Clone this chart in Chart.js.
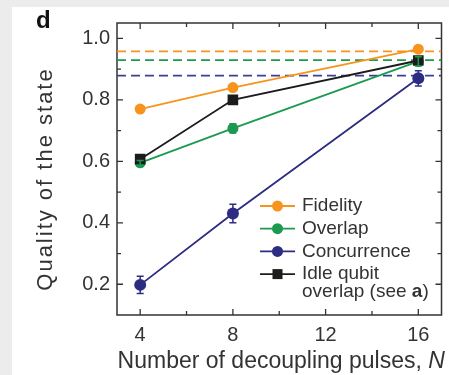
<!DOCTYPE html>
<html>
<head>
<meta charset="utf-8">
<script src="https://cdn.jsdelivr.net/npm/chart.js@4.4.1/dist/chart.umd.min.js"></script>
<style>
  html, body { margin: 0; padding: 0; background: #ffffff; overflow: hidden; }
  #wrap { position: relative; width: 449px; height: 375px; }
  canvas { display: block; }
</style>
</head>
<body>
<div id="wrap"><canvas id="qualityChart" width="449" height="375"></canvas></div>
<script>
// Data (panel d)
const pulses = [4, 8, 16];
const fidelity = [0.77, 0.84, 0.965];
const overlap = [0.595, 0.707, 0.925];
const overlapErr = [0.008, 0.015, 0.015];
const concurrence = [0.198, 0.43, 0.87];
const concurrenceErr = [0.028, 0.03, 0.025];
const idleOverlap = [0.607, 0.80, 0.928];

// dashed reference levels (fidelity, overlap, concurrence)
const refLevels = [0.958, 0.929, 0.879];

const xTicks = [4, 8, 12, 16];
const xMinorTicks = [6, 10, 14];
const yTicks = [0.2, 0.4, 0.6, 0.8, 1.0];
const yMinorTicks = [0.3, 0.5, 0.7, 0.9];

const COLORS = {
    fidelity: '#f7941d',
    overlap: '#1b9a50',
    concurrence: '#2b2c82',
    idle: '#1c1c1c',
    text: '#333333',
};
const FONT = "'Liberation Sans', Arial, sans-serif";

const toPoints = (ys) => pulses.map((x, i) => ({ x, y: ys[i] }));

const series = (label, ys, color, style, radius) => ({
    label,
    data: toPoints(ys),
    showLine: true,
    borderColor: color,
    backgroundColor: color,
    borderWidth: 1.8,
    pointStyle: style,
    pointRadius: radius,
    pointHoverRadius: radius,
    pointBorderWidth: 0,
});

const refLine = (level, color) => ({
    data: [{ x: 3, y: level }, { x: 17, y: level }],
    showLine: true,
    borderColor: color,
    borderWidth: 1.7,
    borderDash: [9, 5],
    pointRadius: 0,
});

const errorBars = [
    { datasetIndex: 2, errs: overlapErr, color: COLORS.overlap },
    { datasetIndex: 3, errs: concurrenceErr, color: COLORS.concurrence },
];

const legendItems = [
    { color: COLORS.fidelity, style: 'circle', lines: ['Fidelity'] },
    { color: COLORS.overlap, style: 'circle', lines: ['Overlap'] },
    { color: COLORS.concurrence, style: 'circle', lines: ['Concurrence'] },
    { color: COLORS.idle, style: 'rect', lines: ['Idle qubit', 'overlap (see |a|)'] },
];

const figurePlugin = {
    id: 'figureDecor',
    beforeDraw(chart) {
        const ctx = chart.ctx;
        ctx.save();
        ctx.fillStyle = '#ffffff';
        ctx.fillRect(0, 0, 449, 375);
        // grey page margin on the left and top
        ctx.fillStyle = '#ececec';
        ctx.fillRect(0, 0, 12, 375);
        ctx.fillRect(0, 0, 449, 7);
        ctx.restore();
    },
    beforeDatasetsDraw(chart) {
        const { ctx, chartArea: a, scales: { x, y } } = chart;
        ctx.save();
        // frame
        ctx.strokeStyle = COLORS.text;
        ctx.lineWidth = 1.5;
        ctx.strokeRect(a.left, a.top, a.right - a.left, a.bottom - a.top);
        // inward ticks on all sides
        ctx.lineWidth = 1.3;
        ctx.beginPath();
        const xt = (v, len) => {
            const px = x.getPixelForValue(v);
            ctx.moveTo(px, a.bottom); ctx.lineTo(px, a.bottom - len);
            ctx.moveTo(px, a.top); ctx.lineTo(px, a.top + len);
        };
        const yt = (v, len) => {
            const py = y.getPixelForValue(v);
            ctx.moveTo(a.left, py); ctx.lineTo(a.left + len, py);
            ctx.moveTo(a.right, py); ctx.lineTo(a.right - len, py);
        };
        xTicks.forEach(v => xt(v, 6));
        xMinorTicks.forEach(v => xt(v, 4));
        yTicks.forEach(v => yt(v, 6));
        yMinorTicks.forEach(v => yt(v, 4));
        ctx.stroke();
        ctx.restore();
    },
    afterDatasetsDraw(chart) {
        const { ctx, scales: { x, y } } = chart;
        ctx.save();
        ctx.lineWidth = 1.5;
        errorBars.forEach(eb => {
            const ds = chart.data.datasets[eb.datasetIndex];
            ctx.strokeStyle = eb.color;
            ctx.beginPath();
            ds.data.forEach((p, i) => {
                const px = x.getPixelForValue(p.x);
                const y1 = y.getPixelForValue(p.y - eb.errs[i]);
                const y2 = y.getPixelForValue(p.y + eb.errs[i]);
                ctx.moveTo(px, y1); ctx.lineTo(px, y2);
                ctx.moveTo(px - 3.5, y1); ctx.lineTo(px + 3.5, y1);
                ctx.moveTo(px - 3.5, y2); ctx.lineTo(px + 3.5, y2);
            });
            ctx.stroke();
        });
        ctx.restore();
    },
    afterDraw(chart) {
        const { ctx, chartArea: a } = chart;
        ctx.save();
        ctx.fillStyle = '#111';
        ctx.textBaseline = 'alphabetic';

        // panel letter
        ctx.font = `bold 24px ${FONT}`;
        ctx.fillText('d', 36, 28);

        // x title with italic N
        ctx.fillStyle = COLORS.text;
        const plain = 'Number of decoupling pulses, ';
        ctx.font = `23px ${FONT}`;
        const w1 = ctx.measureText(plain).width;
        ctx.font = `italic 23px ${FONT}`;
        const w2 = ctx.measureText('N').width;
        let sx = (a.left + a.right) / 2 + 2 - (w1 + w2) / 2;
        ctx.font = `23px ${FONT}`;
        ctx.fillText(plain, sx, 368);
        ctx.font = `italic 23px ${FONT}`;
        ctx.fillText('N', sx + w1, 368);

        // y title
        ctx.save();
        ctx.translate(52, 179);
        ctx.rotate(-Math.PI / 2);
        ctx.font = `22px ${FONT}`;
        ctx.letterSpacing = '2px';
        ctx.textAlign = 'center';
        ctx.fillText('Quality of the state', 0, 0);
        ctx.restore();

        // legend
        const lx = 260, lw = 35, tx = 302;
        let ly = 206;
        legendItems.forEach(item => {
            ctx.strokeStyle = item.color;
            ctx.fillStyle = item.color;
            ctx.lineWidth = 1.8;
            ctx.beginPath();
            ctx.moveTo(lx, ly); ctx.lineTo(lx + lw, ly);
            ctx.stroke();
            const mx = lx + lw / 2;
            if (item.style === 'rect') {
                ctx.fillRect(mx - 5, ly - 5, 10, 10);
            } else {
                ctx.beginPath();
                ctx.arc(mx, ly, 5.5, 0, Math.PI * 2);
                ctx.fill();
            }
            ctx.fillStyle = COLORS.text;
            ctx.textBaseline = 'middle';
            item.lines.forEach((line, k) => {
                const parts = line.split('|');
                let cx = tx;
                parts.forEach((part, j) => {
                    ctx.font = (j % 2 ? 'bold ' : '') + `19px ${FONT}`;
                    ctx.fillText(part, cx, ly + k * 18);
                    cx += ctx.measureText(part).width;
                });
            });
            ly += 22.7;
        });
        ctx.restore();
    }
};

new Chart(document.getElementById('qualityChart'), {
    type: 'scatter',
    data: {
        datasets: [
            series('Fidelity', fidelity, COLORS.fidelity, 'circle', 5.5),
            series('Idle qubit overlap', idleOverlap, COLORS.idle, 'rect', 7.5),
            series('Overlap', overlap, COLORS.overlap, 'circle', 5.5),
            series('Concurrence', concurrence, COLORS.concurrence, 'circle', 6),
            refLine(refLevels[0], COLORS.fidelity),
            refLine(refLevels[1], COLORS.overlap),
            refLine(refLevels[2], '#3d3f92'),
        ]
    },
    options: {
        responsive: false,
        animation: false,
        layout: { padding: { top: 23, right: 5, left: 0, bottom: 0 } },
        plugins: {
            legend: { display: false },
            tooltip: { enabled: false },
        },
        scales: {
            x: {
                type: 'linear',
                min: 3,
                max: 17,
                afterBuildTicks: (s) => { s.ticks = xTicks.map(v => ({ value: v })); },
                afterFit: (s) => { s.height = 60; s.paddingLeft = 0; s.paddingRight = 0; },
                grid: { display: false, drawTicks: false },
                border: { display: false },
                ticks: {
                    color: COLORS.text,
                    padding: 8,
                    font: { family: FONT, size: 20 },
                    maxRotation: 0,
                },
            },
            y: {
                min: 0.1,
                max: 1.05,
                afterBuildTicks: (s) => { s.ticks = yTicks.map(v => ({ value: v })); },
                afterFit: (s) => { s.width = 117; s.paddingTop = 0; s.paddingBottom = 0; },
                grid: { display: false, drawTicks: false },
                border: { display: false },
                ticks: {
                    color: COLORS.text,
                    padding: 7,
                    font: { family: FONT, size: 20 },
                    callback: (v) => v.toFixed(1),
                },
            }
        }
    },
    plugins: [figurePlugin]
});
</script>
</body>
</html>
